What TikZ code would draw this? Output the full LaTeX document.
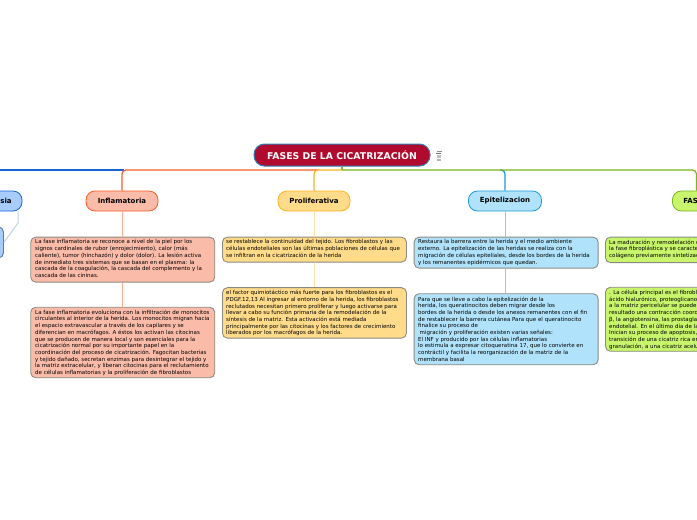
\documentclass[tikz,border=0pt]{standalone}
\usepackage{fontspec}
\setmainfont{DejaVu Sans}
\newcommand{\txt}{\fontsize{5.5}{6.68}\selectfont}
\definecolor{crim}{HTML}{B00A2E}
\definecolor{crimb}{HTML}{2F7FB8}
\definecolor{bluef}{HTML}{A8CDFB}
\definecolor{blued}{HTML}{1565D8}
\definecolor{redf}{HTML}{FBBBA9}
\definecolor{redd}{HTML}{FB5A2A}
\definecolor{yelf}{HTML}{FFDB8A}
\definecolor{yeld}{HTML}{FBB31E}
\definecolor{cyaf}{HTML}{B0E3FB}
\definecolor{cyad}{HTML}{1A9BD8}
\definecolor{grnf}{HTML}{C8F56C}
\definecolor{grnd}{HTML}{7AB51D}
\definecolor{noteb}{HTML}{8A8A80}
\tikzset{
 x=1pt,y=-1pt,
 rootbox/.style={draw=crimb,fill=crim,line width=1pt,rounded corners=10.5pt,text=white,font=\fontsize{9.3}{11}\selectfont\bfseries,anchor=center,minimum height=22pt,minimum width=176pt,inner sep=0pt},
 topic/.style={line width=0.8pt,rounded corners=9pt,font=\fontsize{7}{8}\selectfont\bfseries,minimum height=20pt,inner sep=0pt,text=black},
 note/.style={draw=noteb,line width=0.9pt,rounded corners=5pt,anchor=north west,inner sep=0pt},
 notetext/.style={anchor=north west,inner sep=0pt,align=left,font=\txt,text=black},
 branch/.style={line width=1.2pt,rounded corners=4pt},
 stem/.style={line width=1pt},
}
\begin{document}
\begin{tikzpicture}
\useasboundingbox (0,0) rectangle (697,520);
\clip (0,0) rectangle (697,520);
% nodes (topics)
\node[rootbox] (root) at (342,155) {FASES DE LA CICATRIZACIÓN};
\node[topic,draw=blued,fill=bluef,minimum width=50pt] (hemo) at (-3,201) {\hspace*{18pt}sia};
\node[topic,draw=redd,fill=redf,minimum width=72pt] (infl) at (122,201) {Inflamatoria};
\node[topic,draw=yeld,fill=yelf,minimum width=72pt] (prol) at (314,201) {Proliferativa};
\node[topic,draw=cyad,fill=cyaf,minimum width=73pt] (epit) at (505,201) {Epitelizacion};
\node[topic,draw=grnd,fill=grnf,minimum width=52pt,anchor=west] (fase) at (672,201) {\hspace*{11pt}\rlap{FAS}\hspace*{41pt}};
% note boxes
\node[note,fill=bluef,draw=blued!45!noteb,minimum width=20pt,minimum height=31pt] (n0) at (-17,226.5) {};
\node[note,fill=redf,minimum width=184pt,minimum height=45pt] (n1) at (30.3,236.7) {};
\node[note,fill=redf,minimum width=184pt,minimum height=70.5pt] (n2) at (30.3,306.8) {};
\node[note,fill=yelf,minimum width=184pt,minimum height=25pt] (n3) at (222,236.7) {};
\node[note,fill=yelf,minimum width=184pt,minimum height=50.5pt] (n4) at (222,287.2) {};
\node[note,fill=cyaf,minimum width=184pt,minimum height=31pt] (n5) at (413.7,236.7) {};
\node[note,fill=cyaf,minimum width=184pt,minimum height=71pt] (n6) at (413.7,293.3) {};
\node[note,fill=grnf,minimum width=120pt,minimum height=25.5pt] (n7) at (605,236.7) {};
\node[note,fill=grnf,minimum width=120pt,minimum height=64pt] (n8) at (605,286.8) {};
% connectors
\coordinate (j0) at (342,170);
\coordinate (jl) at (0,170);
\coordinate (jr) at (696.5,170);
\coordinate (jb) at (18,223);
\draw[stem,draw=redd!50] (infl.south) -- (n1.north -| infl.south);
\draw[stem,draw=redd!50] (n1.south -| infl.south) -- (n2.north -| infl.south);
\draw[stem,draw=yeld!40] (prol.south) -- (n3.north -| prol.south);
\draw[stem,draw=yeld!40] (n3.south -| prol.south) -- (n4.north -| prol.south);
\draw[stem,draw=cyad!50] (epit.south) -- (n5.north -| epit.south);
\draw[stem,draw=cyad!50] (n5.south -| epit.south) -- (n6.north -| epit.south);
\draw[stem,draw=blued!30] (jb |- hemo.south) -- (jb) -- (n0.east);
\draw[branch,draw=cyad] (500,170) -- (505,170) -- (epit.north);
\draw[branch,draw=grnd] (j0) -- (jr) -- (fase.north -| jr);
\draw[line width=1.2pt,draw=grnd] (root.south) -- (j0);
\draw[branch,draw=blued] (jl) -- (124,170);
\draw[branch,draw=redd] (318,170) -- (122,170) -- (infl.north);
\draw[branch,draw=yeld] (j0) -- (314,170) -- (prol.north);
% note texts
\node[notetext] at (35,239.6) {La fase inflamatoria se reconoce a nivel de la piel por los\\signos cardinales de rubor (enrojecimiento), calor (más\\caliente), tumor (hinchazón) y dolor (dolor). La lesión activa\\de inmediato tres sistemas que se basan en el plasma: la\\cascada de la coagulación, la cascada del complemento y la\\cascada de las cininas.};
\node[notetext] at (35,309.7) {La fase inflamatoria evoluciona con la infiltración de monocitos\\circulantes al interior de la herida. Los monocitos migran hacia\\el espacio extravascular a través de los capilares y se\\diferencian en macrófagos. A éstos los activan las citocinas\\que se producen de manera local y son esenciales para la\\cicatrización normal por su importante papel en la\\coordinación del proceso de cicatrización. Fagocitan bacterias\\y tejido dañado, secretan enzimas para desintegrar el tejido y\\la matriz extracelular, y liberan citocinas para el reclutamiento\\de células inflamatorias y la proliferación de fibroblastos};
\node[notetext] at (226,239.6) {se restablece la continuidad del tejido. Los fibroblastos y las\\células endoteliales son las últimas poblaciones de células que\\se infiltran en la cicatrización de la herida};
\node[notetext] at (226,290.2) {el factor quimiotáctico más fuerte para los fibroblastos es el\\PDGF.12,13 Al ingresar al entorno de la herida, los fibroblastos\\reclutados necesitan primero proliferar y luego activarse para\\llevar a cabo su función primaria de la remodelación de la\\síntesis de la matriz. Esta activación está mediada\\principalmente por las citocinas y los factores de crecimiento\\liberados por los macrófagos de la herida.};
\node[notetext] at (418,239.6) {Restaura la barrera entre la herida y el medio ambiente\\externo. La epitelización de las heridas se realiza con la\\migración de células epiteliales, desde los bordes de la herida\\y los remanentes epidérmicos que quedan.};
\node[notetext] at (418,296.6) {Para que se lleve a cabo la epitelización de la\\herida, los queratinocitos deben migrar desde los\\bordes de la herida o desde los anexos remanentes con el fin\\de restablecer la barrera cutánea Para que el queratinocito\\finalice su proceso de\\\hspace*{1.5pt}migración y proliferación existen varias señales:\\El INF y producido por las células inflamatorias\\lo estimula a expresar citoqueratina 17, que lo convierte en\\contráctil y facilita la reorganización de la matriz de la\\membrana basal};
\node[notetext] at (609,239.6) {La maduración y remodelación d\\la fase fibroplástica y se caracte\\colágeno previamente sintetizad};
\node[notetext] at (609,290) {. La célula principal es el fibrobl\\ácido hialurónico, proteoglicano\\a la matriz pericelular se puede\\resultado una contracción coord\\β, la angiotensina, las prostagla\\endotelial. En el último día de la\\Inician su proceso de apoptosis,\\transición de una cicatriz rica en\\granulación, a una cicatriz acelu};
% small icon beside the root
\fill[black!45] (436.5,150.5) rectangle (442,151.2);
\fill[black!55] (436,153) rectangle (441,154.2);
\fill[black!25] (436.5,155) rectangle (440.5,157.5);
\fill[black!30] (436.5,158.5) rectangle (440.5,160.5);
\end{tikzpicture}
\end{document}
